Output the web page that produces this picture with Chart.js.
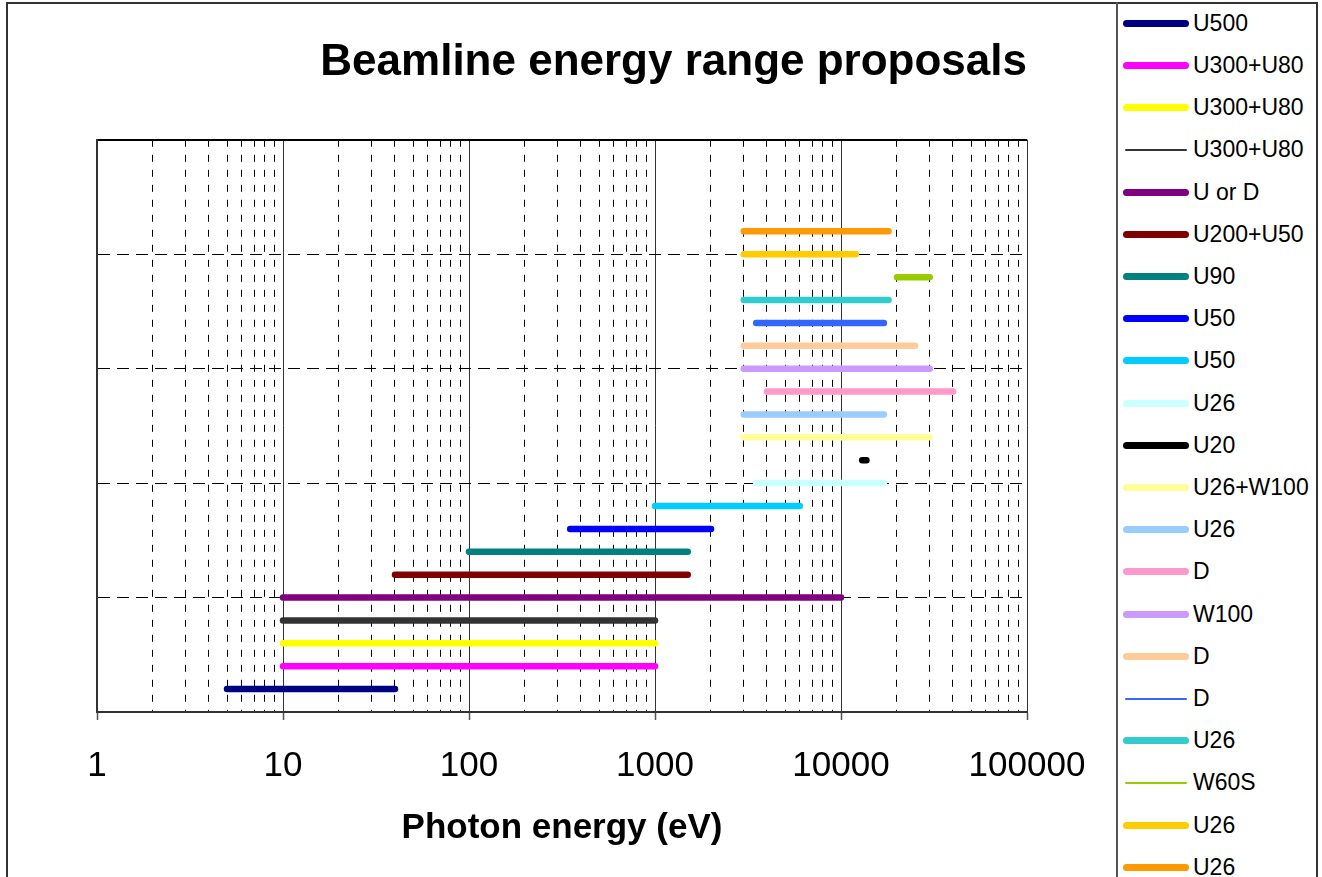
<!DOCTYPE html>
<html>
<head>
<meta charset="utf-8">
<script src="https://cdn.jsdelivr.net/npm/chart.js@4.4.1/dist/chart.umd.min.js"></script>
<style>
  html, body { margin: 0; padding: 0; background: #fff; }
  body { width: 1322px; height: 877px; position: relative; overflow: hidden;
         font-family: "Liberation Sans", Arial, sans-serif; }
  #frame { position: absolute; left: 6px; top: 2px; width: 1312px; height: 900px;
           border: 2px solid #333; box-sizing: border-box; }
  #divider { position: absolute; left: 1116px; top: 2px; width: 2px; height: 900px; background: #555; }
  #chartBox { position: absolute; left: 0; top: 0; width: 1117px; height: 877px; }
  #legend { position: absolute; left: 1123px; top: 0; width: 190px; height: 877px; }
  .item { position: absolute; left: 0; height: 30px; display: flex; align-items: center; }
  .swatch { width: 66px; border-radius: 4px; }
  .label { margin-left: 4px; font-size: 23px; color: #000; white-space: nowrap; }
</style>
</head>
<body>
<div id="frame"></div>
<div id="divider"></div>
<div id="chartBox"><canvas id="rangeChart" width="1117" height="877"></canvas></div>
<div id="legend"></div>

<script>
// ================= DATA =================
const beamlines = ["U500", "U300+U80", "U300+U80", "U300+U80", "U or D", "U200+U50", "U90",
  "U50", "U50", "U26", "U20", "U26+W100", "U26", "D", "W100", "D", "D", "U26", "W60S", "U26", "U26"];
const energyFrom = [5, 10, 10, 10, 10, 40, 100, 350, 1000, 3500, 13000,
  3000, 3000, 4000, 3000, 3000, 3500, 3000, 20000, 3000, 3000];
const energyTo = [40, 1000, 1000, 1000, 10000, 1500, 1500, 2000, 6000, 17000, 13700,
  30000, 17000, 40000, 30000, 25000, 17000, 18000, 30000, 12000, 18000];
const rowLevel = [0.2, 0.4, 0.6, 0.8, 1.0, 1.2, 1.4, 1.6, 1.8, 2.0, 2.2,
  2.4, 2.6, 2.8, 3.0, 3.2, 3.4, 3.6, 3.8, 4.0, 4.2];
const xTickLabels = ["1", "10", "100", "1000", "10000", "100000"];

// ================= STYLE =================
const colors = ["#000080", "#FF00FF", "#FFFF00", "#333333", "#800080", "#800000", "#008080",
  "#0000FF", "#00CCFF", "#CCFFFF", "#000000", "#FFFF99", "#99CCFF", "#FF99CC", "#CC99FF",
  "#FFCC99", "#3366FF", "#33CCCC", "#99CC00", "#FFCC00", "#FF9900"];
const thinInLegend = [3, 16, 18];
const FONT = "'Liberation Sans', Arial, sans-serif";

const majorValues = xTickLabels.map(Number);
const gridValues = [];
majorValues.forEach((m, i) => {
  gridValues.push(m);
  if (i < majorValues.length - 1) {
    for (let k = 2; k <= 9; k++) gridValues.push(m * k);
  }
});
const isMajor = (v) => majorValues.includes(v);

const datasets = beamlines.map((name, i) => ({
  label: name,
  data: [{ x: energyFrom[i], y: rowLevel[i] }, { x: energyTo[i], y: rowLevel[i] }],
  borderColor: colors[i],
  backgroundColor: colors[i],
  borderWidth: 6.5,
  borderCapStyle: "round",
  pointRadius: 0,
  pointHoverRadius: 0,
  tension: 0,
  fill: false
}));

new Chart(document.getElementById("rangeChart"), {
  type: "line",
  data: { datasets },
  options: {
    responsive: false,
    animation: false,
    events: [],
    layout: { padding: { left: 97, right: 90, top: 0, bottom: 0 } },
    plugins: {
      legend: { display: false },
      tooltip: { enabled: false },
      title: {
        display: true,
        text: "Beamline energy range proposals",
        align: "end",
        color: "#000",
        font: { family: FONT, size: 44, weight: "bold" },
        padding: { top: 36, bottom: 51 }
      }
    },
    scales: {
      x: {
        type: "logarithmic",
        min: 1,
        max: 100000,
        afterBuildTicks: (scale) => {
          scale.ticks = gridValues.map(v => ({ value: v, major: isMajor(v) }));
        },
        afterFit: (scale) => { scale.height = 165; },
        ticks: {
          autoSkip: false,
          maxRotation: 0,
          padding: 25,
          color: "#000",
          font: { family: FONT, size: 35 },
          callback: (v) => isMajor(v) ? xTickLabels[majorValues.indexOf(v)] : ""
        },
        grid: {
          color: (ctx) => ctx.tick && isMajor(ctx.tick.value) ? "#333" : "#000",
          lineWidth: 1,
          tickLength: 8,
          tickWidth: 1.5,
          tickColor: (ctx) => ctx.tick && isMajor(ctx.tick.value) ? "#555" : "rgba(0,0,0,0)"
        },
        border: {
          display: true,
          color: "#333",
          width: 2,
          dash: (ctx) => ctx.tick && !isMajor(ctx.tick.value) ? [7, 8] : []
        },
        title: {
          display: true,
          text: "Photon energy (eV)",
          color: "#000",
          font: { family: FONT, size: 35, weight: "bold" },
          padding: { top: 0, bottom: 28 }
        }
      },
      y: {
        type: "linear",
        min: 0,
        max: 5,
        ticks: { display: false, stepSize: 1 },
        grid: {
          drawTicks: false,
          color: "#000",
          lineWidth: (ctx) => ctx.tick && (ctx.tick.value === 5) ? 2 : 1
        },
        border: {
          display: true,
          color: "#333",
          width: 2,
          dash: (ctx) => ctx.tick && ctx.tick.value > 0 && ctx.tick.value < 5 ? [12, 7] : []
        }
      }
    }
  }
});

// ================= LEGEND =================
const legendBox = document.getElementById("legend");
beamlines.forEach((name, i) => {
  const thin = thinInLegend.includes(i);
  const item = document.createElement("div");
  item.className = "item";
  item.style.top = (23.3 + i * 42.2 - 15) + "px";
  item.innerHTML = `
    <div class="swatch" style="height:${thin ? 2 : 7}px;background:${colors[i]};
      ${thin ? "margin:0 2px;width:62px;" : ""}"></div>
    <div class="label">${name}</div>`;
  legendBox.appendChild(item);
});
</script>
</body>
</html>
